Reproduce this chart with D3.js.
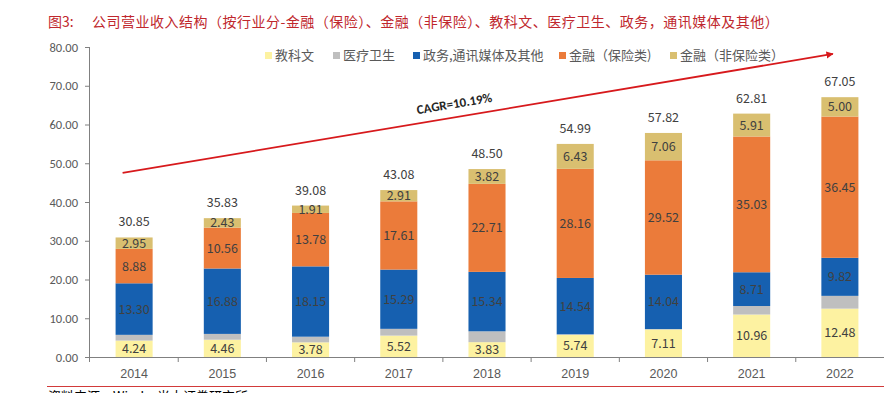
<!DOCTYPE html>
<html><head><meta charset="utf-8">
<script src="https://cdn.jsdelivr.net/npm/d3@7/dist/d3.min.js"></script>
<style>
html,body{margin:0;padding:0;background:#fff;}
svg{display:block;font-family:"Noto Sans CJK SC","Noto Sans",sans-serif;}
</style></head>
<body><svg id="chart" width="884" height="393"></svg>
<script>
const years = ["2014","2015","2016","2017","2018","2019","2020","2021","2022"];
const education = [4.24,4.46,3.78,5.52,3.83,5.74,7.11,10.96,12.48];
const medical = [1.48,1.50,1.46,1.75,2.80,0.12,0.09,2.20,3.30];
const government = [13.30,16.88,18.15,15.29,15.34,14.54,14.04,8.71,9.82];
const financeIns = [8.88,10.56,13.78,17.61,22.71,28.16,29.52,35.03,36.45];
const financeNonIns = [2.95,2.43,1.91,2.91,3.82,6.43,7.06,5.91,5.00];
const totals = [30.85,35.83,39.08,43.08,48.50,54.99,57.82,62.81,67.05];
const yTicks = [0,10,20,30,40,50,60,70,80];
const seriesNames = ["教科文","医疗卫生","政务,通讯媒体及其他","金融（保险类)","金融（非保险类）"];
const seriesColors = ["#FDF2A1","#BFBFBF","#1660B0","#EB7B3A","#D9BF70"];
const showLabel = [true,false,true,true,true];
const cagrText = "CAGR=10.19%";
const cagrStart = 47.5, cagrEnd = 78.2;
const titleNo = "图3:";
const titleText = "公司营业收入结构（按行业分-金融（保险）、金融（非保险）、教科文、医疗卫生、政务，通讯媒体及其他）";
const sourceText = "资料来源：Wind，光大证券研究所";

const seriesValues = [education, medical, government, financeIns, financeNonIns];
const svg = d3.select("#chart");
const x = d3.scaleBand().domain(years).range([90, 884]).paddingInner(0.58).paddingOuter(0.29);
const y = d3.scaleLinear().domain([0, 80]).range([357, 47]);

// title
svg.append("text").attr("x", 48).attr("y", 27).attr("fill", "#C0272D").attr("font-size", 14).text(titleNo);
svg.append("text").attr("x", 92).attr("y", 27).attr("fill", "#C0272D").attr("font-size", 14)
  .attr("letter-spacing", "0.5px").text(titleText);

// y axis
const yAxis = svg.append("g").attr("transform", "translate(90,0)")
  .call(d3.axisLeft(y).tickValues(yTicks).tickFormat(d3.format(".2f")).tickSize(5).tickPadding(7));
yAxis.select(".domain").attr("stroke", "#808080").attr("d", "M-0.5,47V362");
yAxis.selectAll(".tick line").attr("stroke", "#808080");
yAxis.selectAll(".tick text").attr("fill", "#595959").attr("font-size", 12.5).attr("font-family", "Calibri,Carlito,'Liberation Sans',sans-serif");

// x axis
const xAxis = svg.append("g").attr("transform", "translate(0,357)")
  .call(d3.axisBottom(x).tickSize(0).tickPadding(12));
xAxis.select(".domain").attr("stroke", "#808080").attr("d", "M90,0.5H884");
xAxis.selectAll(".tick text").attr("fill", "#595959").attr("font-size", 12.5);
xAxis.selectAll(".sep").data(years.slice(1)).enter().append("line")
  .attr("x1", d => x(d) - x.step()*x.paddingInner()/2).attr("x2", d => x(d) - x.step()*x.paddingInner()/2)
  .attr("y1", 0).attr("y2", 5).attr("stroke", "#808080");

// stacked bars
const stackData = years.map((yr, i) => {
  const o = {year: yr};
  seriesValues.forEach((s, k) => o["s" + k] = s[i]);
  return o;
});
const stack = d3.stack().keys(seriesValues.map((_, k) => "s" + k))(stackData);
stack.forEach((layer, k) => {
  const g = svg.append("g");
  g.selectAll("rect").data(layer).enter().append("rect")
    .attr("x", d => x(d.data.year)).attr("width", x.bandwidth())
    .attr("y", d => y(d[1])).attr("height", d => y(d[0]) - y(d[1]))
    .attr("fill", seriesColors[k]);
  if (showLabel[k]) {
    g.selectAll("text").data(layer).enter().append("text")
      .attr("x", d => x(d.data.year) + x.bandwidth()/2)
      .attr("y", d => (y(d[0]) + y(d[1]))/2)
      .attr("dy", "0.36em").attr("text-anchor", "middle")
      .attr("fill", "#404040").attr("font-size", 12.5)
      .text(d => seriesValues[k][years.indexOf(d.data.year)].toFixed(2));
  }
});

// totals
svg.append("g").selectAll("text").data(years).enter().append("text")
  .attr("x", d => x(d) + x.bandwidth()/2)
  .attr("y", (d, i) => y(totals[i]) - 11)
  .attr("text-anchor", "middle").attr("fill", "#404040").attr("font-size", 12.5)
  .text((d, i) => totals[i].toFixed(2));

// legend
const legendX = [265, 333, 413, 559, 670];
const lg = svg.append("g");
seriesNames.forEach((n, k) => {
  lg.append("rect").attr("x", legendX[k]).attr("y", 52).attr("width", 7).attr("height", 7).attr("fill", seriesColors[k]);
  lg.append("text").attr("x", legendX[k] + 10).attr("y", 60).attr("fill", "#595959").attr("font-size", 13).text(n);
});

// CAGR arrow
const defs = svg.append("defs");
defs.append("marker").attr("id", "arr").attr("viewBox", "0 0 10 10").attr("refX", 9).attr("refY", 5)
  .attr("markerWidth", 4).attr("markerHeight", 4).attr("orient", "auto")
  .append("path").attr("d", "M0,0L10,5L0,10z").attr("fill", "#D7191C");
const ax1 = x(years[0]) + 7, ay1 = y(cagrStart);
const ax2 = x(years[years.length-1]) - 7 + x.bandwidth()/2, ay2 = y(cagrEnd);
svg.append("line").attr("x1", ax1).attr("y1", ay1).attr("x2", ax2).attr("y2", ay2)
  .attr("stroke", "#D7191C").attr("stroke-width", 1.8).attr("marker-end", "url(#arr)");
const ang = Math.atan2(ay2 - ay1, ax2 - ax1) * 180 / Math.PI;
svg.append("text").attr("transform", `translate(455,108) rotate(${ang})`)
  .attr("text-anchor", "middle").attr("font-weight", "bold").attr("font-size", 13)
  .attr("fill", "#262626").attr("font-family", "Carlito,'Liberation Sans',sans-serif").text(cagrText);

// footer
svg.append("line").attr("x1", 47).attr("x2", 884).attr("y1", 386.5).attr("y2", 386.5).attr("stroke", "#D23A3A").attr("stroke-width", 1);
svg.append("text").attr("x", 48).attr("y", 401).attr("font-size", 13).attr("fill", "#000").text(sourceText);
</script></body></html>
